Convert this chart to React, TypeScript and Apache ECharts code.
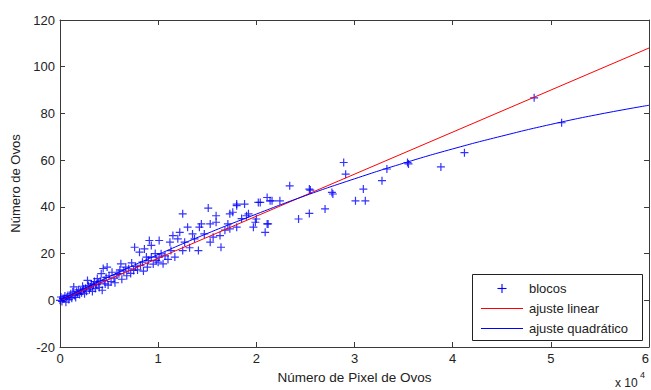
import React, { useEffect, useRef } from "react";
import * as echarts from "echarts";

// x values in units of 10^4 pixels
const blocosX = [0.00,0.01,0.02,0.03,0.04,0.05,0.06,0.07,0.08,0.09,0.10,0.11,0.12,0.13,0.14,0.15,0.16,0.17,0.18,0.19,0.20,0.21,0.22,0.23,0.24,0.25,0.26,0.27,0.28,0.29,0.30,0.31,0.32,0.33,0.34,0.35,0.36,0.37,0.38,0.39,0.40,0.41,0.42,0.43,0.44,0.45,0.46,0.47,0.48,0.49,0.50,0.52,0.53,0.55,0.56,0.58,0.60,0.61,0.62,0.63,0.65,0.67,0.68,0.70,0.72,0.73,0.75,0.76,0.77,0.79,0.81,0.82,0.84,0.85,0.86,0.88,0.89,0.90,0.91,0.93,0.93,0.95,0.97,0.98,1.00,1.01,1.01,1.03,1.05,1.07,1.10,1.12,1.13,1.15,1.17,1.20,1.22,1.25,1.25,1.27,1.30,1.32,1.35,1.37,1.41,1.42,1.44,1.47,1.51,1.53,1.53,1.56,1.59,1.59,1.63,1.64,1.68,1.71,1.73,1.73,1.76,1.80,1.80,1.80,1.85,1.88,1.90,1.92,1.97,1.99,2.00,2.02,2.04,2.09,2.11,2.11,2.12,2.14,2.16,2.24,2.34,2.43,2.54,2.54,2.55,2.70,2.77,2.78,2.89,2.91,3.01,3.09,3.11,3.28,3.33,3.54,3.55,3.88,4.12,4.83,5.11];
const blocosY = [0.0,1.4,-0.5,0.8,0.7,1.8,-0.8,1.2,2.1,0.3,1.5,2.8,0.9,3.5,5.7,2.0,1.2,3.8,2.9,4.5,2.5,4.0,3.2,6.0,4.8,2.8,5.2,3.9,8.5,6.3,4.5,5.7,7.0,3.8,6.5,8.0,5.0,6.8,9.3,7.5,5.5,8.2,11.4,4.3,13.6,8.5,7.0,9.8,14.2,6.5,10.5,8.0,12.0,9.5,7.5,11.0,11.4,13.0,15.6,9.0,12.5,14.2,10.5,13.5,11.5,16.0,12.8,22.7,14.5,13.0,20.6,15.0,16.3,12.5,22.0,18.5,14.2,17.0,25.6,23.5,18.5,15.5,20.0,17.1,16.3,25.6,18.5,19.9,15.6,19.0,17.5,24.9,21.3,27.7,18.5,26.3,29.1,21.3,37.0,24.9,31.3,22.5,28.4,26.3,21.3,31.3,32.7,28.4,39.5,32.7,24.9,27.0,36.2,33.4,27.7,22.7,30.0,32.7,37.0,30.6,37.7,41.2,31.3,40.5,35.0,41.2,36.2,37.0,31.3,33.4,34.8,41.9,41.9,29.1,44.0,32.7,32.7,42.6,42.6,42.6,49.0,34.8,47.6,37.2,47.2,39.1,46.2,45.5,59.0,54.0,42.6,47.6,42.6,51.2,56.2,59.0,58.4,57.1,63.2,86.7,76.0];

const linearX = [0, 6];
const linearY = [0, 108];

const quadX = [0, 0.5, 1, 1.5, 2, 2.5, 3, 3.5, 4, 4.5, 5, 5.5, 6];
const quadY = [0, 10.1, 19.6, 28.6, 36.9, 44.8, 52.0, 58.7, 64.8, 70.3, 75.3, 79.7, 83.5];

const legendNames = ["blocos", "ajuste linear", "ajuste quadrático"];

const FONT = "'Liberation Sans', Arial, sans-serif";
const TXT = "#222";
const AX = "#3a3a3a";

export default function App() {
  const ref = useRef<HTMLDivElement>(null);
  useEffect(() => {
    const chart = echarts.init(ref.current!, null, { renderer: "svg" });
    const axisCommon = {
      type: "value" as const,
      axisLine: { show: true, onZero: false, lineStyle: { color: AX, width: 1 } },
      axisTick: { show: true, inside: true, length: 5, lineStyle: { color: AX } },
      splitLine: { show: false },
    };
    const option: any = {
      animation: false,
      backgroundColor: "#fff",
      grid: { left: 60, right: 2, top: 20, bottom: 43, containLabel: false, outerBoundsMode: "none" },
      xAxis: [
        {
          ...axisCommon,
          min: 0, max: 6, interval: 1, position: "bottom",
          axisLabel: { color: TXT, fontFamily: FONT, fontSize: 13, margin: 5, alignMaxLabel: "right" },
          name: "Número de Pixel de Ovos",
          nameLocation: "middle",
          nameGap: 23,
          nameTextStyle: { color: TXT, fontFamily: FONT, fontSize: 13.5 },
        },
        {
          ...axisCommon,
          min: 0, max: 6, interval: 1, position: "top",
          axisLabel: { show: false },
        },
      ],
      yAxis: [
        {
          ...axisCommon,
          min: -20, max: 120, interval: 20, position: "left",
          axisLabel: { color: TXT, fontFamily: FONT, fontSize: 13, margin: 5 },
          name: "Número de Ovos",
          nameLocation: "middle",
          nameGap: 37,
          nameTextStyle: { color: TXT, fontFamily: FONT, fontSize: 13 },
        },
        {
          ...axisCommon,
          min: -20, max: 120, interval: 20, position: "right",
          axisLabel: { show: false },
        },
      ],
      series: [
        {
          name: legendNames[0],
          type: "scatter",
          xAxisIndex: 0, yAxisIndex: 0,
          symbol: "path://M4,0L4,8M0,4L8,4",
          symbolSize: 8,
          itemStyle: { color: "rgba(0,0,0,0)", borderColor: "#0000ff", borderWidth: 1.2 },
          data: blocosX.map((x, i) => [x, blocosY[i]]),
          z: 2,
        },
        {
          name: legendNames[1],
          type: "line",
          xAxisIndex: 0, yAxisIndex: 0,
          showSymbol: false,
          lineStyle: { color: "#ff0000", width: 1 },
          data: linearX.map((x, i) => [x, linearY[i]]),
          z: 3,
        },
        {
          name: legendNames[2],
          type: "line",
          xAxisIndex: 0, yAxisIndex: 0,
          showSymbol: false,
          smooth: true,
          lineStyle: { color: "#0000ff", width: 1 },
          data: quadX.map((x, i) => [x, quadY[i]]),
          z: 3,
        },
      ],
      graphic: [
        {
          type: "rect", z: 100,
          shape: { x: 472.5, y: 274.5, width: 170, height: 66 },
          style: { fill: "#fff", stroke: "#222", lineWidth: 1 },
        },
        { type: "line", z: 101, shape: { x1: 497.5, y1: 288.5, x2: 506.5, y2: 288.5 }, style: { stroke: "#0000ff", lineWidth: 1.1 } },
        { type: "line", z: 101, shape: { x1: 502, y1: 284, x2: 502, y2: 293 }, style: { stroke: "#0000ff", lineWidth: 1.1 } },
        { type: "line", z: 101, shape: { x1: 481, y1: 308.5, x2: 523, y2: 308.5 }, style: { stroke: "#ff0000", lineWidth: 1 } },
        { type: "line", z: 101, shape: { x1: 481, y1: 328.5, x2: 523, y2: 328.5 }, style: { stroke: "#0000ff", lineWidth: 1 } },
        { type: "text", z: 101, x: 529, y: 288, style: { text: legendNames[0], fill: TXT, font: `13px ${FONT}`, verticalAlign: "middle" } },
        { type: "text", z: 101, x: 529, y: 308, style: { text: legendNames[1], fill: TXT, font: `13px ${FONT}`, verticalAlign: "middle" } },
        { type: "text", z: 101, x: 529, y: 328, style: { text: legendNames[2], fill: TXT, font: `13px ${FONT}`, verticalAlign: "middle" } },
        { type: "text", z: 101, x: 615, y: 383, style: { text: "x 10", fill: TXT, font: `12px ${FONT}`, verticalAlign: "middle" } },
        { type: "text", z: 101, x: 640, y: 375, style: { text: "4", fill: TXT, font: `9px ${FONT}`, verticalAlign: "middle" } },
      ],
    };
    chart.setOption(option);
    return () => chart.dispose();
  }, []);
  return (
    <div
      ref={ref}
      style={{ position: "fixed", left: 0, top: 0, width: 651, height: 390, background: "#fff" }}
    />
  );
}
